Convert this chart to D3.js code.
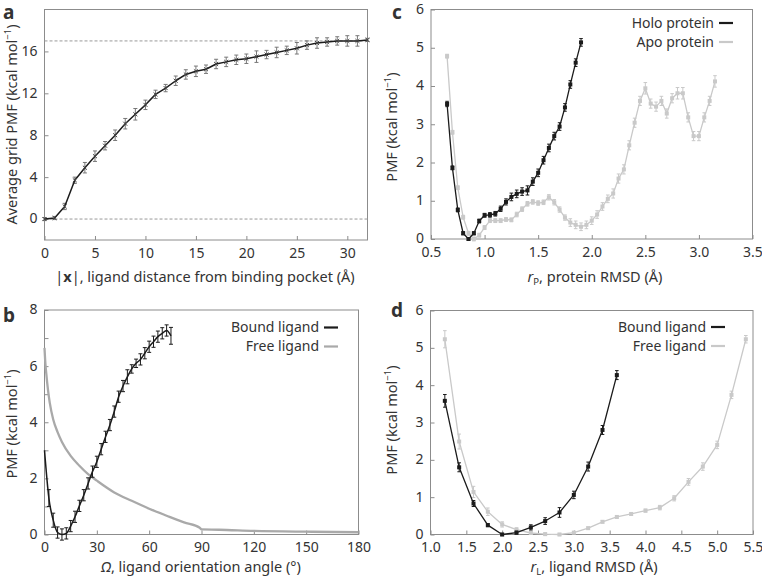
<!DOCTYPE html>
<html><head><meta charset="utf-8">
<script src="https://cdn.jsdelivr.net/npm/d3@7"></script>
<style>
body{margin:0;background:#fff}
text{font-family:'Noto Sans',sans-serif;fill:#333}
</style>
</head><body>
<svg id="chart" width="762" height="579"></svg>
<script>
// ---------- Panel a ----------
const aX = [0,1,2,3,4,5,6,7,8,9,10,11,12,13,14,15,16,17,18,19,20,21,22,23,24,25,26,27,28,29,30,31,32];
const aY = [0,0.1,1.2,3.7,4.9,6.0,7.0,8.0,9.1,10.0,10.9,11.9,12.5,13.2,13.8,14.1,14.3,14.8,15.0,15.2,15.3,15.5,15.7,15.9,16.1,16.3,16.6,16.8,16.9,17.0,17.0,17.0,17.1];
const aErr = [0.15,0.15,0.3,0.3,0.5,0.5,0.4,0.5,0.5,0.55,0.45,0.4,0.35,0.45,0.45,0.5,0.4,0.45,0.45,0.45,0.45,0.55,0.4,0.5,0.4,0.55,0.4,0.5,0.4,0.4,0.5,0.5,0.15];
const aRefLines = [0,17];
const aXTicks = [0,5,10,15,20,25,30];
const aYTicks = [0,4,8,12,16];

// ---------- Panel b ----------
const bBoundX = [0,2.5,5,7.5,10,12.5,15,17.5,20,22.5,25,27.5,30,32.5,35,37.5,40,42.5,45,47.5,50,52.5,55,57.5,60,62.5,65,67.5,70,72.5];
const bBoundY = [3.0,1.3,0.51,0.07,0,0.04,0.3,0.63,1.02,1.4,1.82,2.24,2.59,3.04,3.48,3.9,4.38,4.91,5.29,5.62,5.9,6.1,6.24,6.46,6.69,6.87,7.05,7.17,7.27,7.08];
const bBoundErr = [0,0.3,0.25,0.2,0.2,0.2,0.2,0.2,0.2,0.2,0.2,0.2,0.2,0.2,0.2,0.2,0.2,0.2,0.2,0.25,0.15,0.15,0.2,0.2,0.2,0.2,0.2,0.2,0.2,0.3];
const bFreeX = [0,0.5,1,2,3,5,7.5,10,15,20,25,30,40,50,60,70,80,89,90,100,120,150,180];
const bFreeY = [6.65,6.1,5.75,5.15,4.7,4.1,3.65,3.3,2.8,2.45,2.15,1.92,1.5,1.2,0.92,0.67,0.43,0.24,0.18,0.17,0.13,0.1,0.08];
const bXTicks = [0,30,60,90,120,150,180];
const bYTicks = [0,1,2,3,4,5,6,7,8];

// ---------- Panel c ----------
const cHoloX = [0.65,0.70,0.75,0.80,0.85,0.90,0.95,1.00,1.05,1.10,1.15,1.20,1.25,1.30,1.35,1.40,1.45,1.50,1.55,1.60,1.65,1.70,1.75,1.80,1.85,1.90];
const cHoloY = [3.53,1.86,0.76,0.15,0.0,0.15,0.47,0.62,0.63,0.66,0.79,0.97,1.1,1.18,1.24,1.27,1.5,1.73,2.06,2.38,2.69,2.94,3.44,4.04,4.61,5.14];
const cHoloErr = [0.07,0.05,0.05,0.04,0.03,0.04,0.05,0.05,0.06,0.06,0.07,0.08,0.1,0.1,0.1,0.12,0.1,0.1,0.1,0.1,0.1,0.1,0.1,0.1,0.1,0.1];
const cApoX = [0.65,0.70,0.75,0.80,0.85,0.90,0.95,1.00,1.05,1.10,1.15,1.20,1.25,1.30,1.35,1.40,1.45,1.50,1.55,1.60,1.65,1.70,1.75,1.80,1.85,1.90,1.95,2.00,2.05,2.10,2.15,2.20,2.25,2.30,2.35,2.40,2.45,2.50,2.55,2.60,2.65,2.70,2.75,2.80,2.85,2.90,2.95,3.00,3.05,3.10,3.15];
const cApoY = [4.78,2.79,1.34,0.57,0.15,0.0,0.1,0.3,0.48,0.48,0.48,0.51,0.5,0.64,0.78,0.92,0.97,0.94,0.96,1.09,0.96,0.77,0.56,0.43,0.37,0.32,0.37,0.48,0.64,0.85,1.05,1.19,1.58,1.82,2.45,3.04,3.61,3.94,3.54,3.46,3.61,3.28,3.68,3.81,3.81,3.18,2.69,2.69,3.18,3.61,4.12];
const cApoErr = [0.05,0.05,0.05,0.05,0.05,0.05,0.05,0.05,0.05,0.05,0.05,0.05,0.05,0.06,0.06,0.06,0.06,0.06,0.06,0.07,0.07,0.07,0.07,0.1,0.1,0.1,0.1,0.1,0.1,0.1,0.1,0.12,0.12,0.12,0.12,0.12,0.12,0.15,0.12,0.12,0.12,0.12,0.12,0.15,0.15,0.12,0.12,0.12,0.12,0.12,0.15];
const cXTicks = [0.5,1.0,1.5,2.0,2.5,3.0,3.5];
const cYTicks = [0,1,2,3,4,5,6];

// ---------- Panel d ----------
const dBoundX = [1.2,1.4,1.6,1.8,2.0,2.2,2.4,2.6,2.8,3.0,3.2,3.4,3.6];
const dBoundY = [3.58,1.8,0.83,0.25,0,0.05,0.19,0.36,0.59,1.06,1.82,2.8,4.27];
const dBoundErr = [0.17,0.12,0.08,0.04,0.03,0.04,0.07,0.09,0.13,0.1,0.12,0.12,0.12];
const dFreeX = [1.2,1.4,1.6,1.8,2.0,2.2,2.4,2.6,2.8,3.0,3.2,3.4,3.6,3.8,4.0,4.2,4.4,4.6,4.8,5.0,5.2,5.4];
const dFreeY = [5.23,2.49,1.14,0.61,0.27,0.13,0.04,0.01,0,0.05,0.17,0.34,0.47,0.55,0.64,0.72,0.97,1.41,1.82,2.4,3.74,5.23];
const dFreeErr = [0.23,0.2,0.15,0.1,0.07,0.05,0.03,0.03,0.03,0.03,0.03,0.03,0.03,0.03,0.04,0.06,0.07,0.09,0.1,0.1,0.1,0.1];
const dXTicks = [1.0,1.5,2.0,2.5,3.0,3.5,4.0,4.5,5.0,5.5];
const dYTicks = [0,1,2,3,4,5,6];

const BLACK = "#1b1b1b", GREY = "#a9a9a9", LIGHT = "#c9c9c9", FRAME = "#8c8c8c";
const svg = d3.select("#chart");

function makePanel(o){
  const g = svg.append("g");
  const x = d3.scaleLinear().domain(o.xd).range(o.xr);
  const y = d3.scaleLinear().domain(o.yd).range(o.yr);
  const xa = g.append("g").attr("transform",`translate(0,${o.yr[0]})`)
    .call(d3.axisBottom(x).tickValues(o.xt).tickSizeInner(-4).tickSizeOuter(0).tickPadding(8).tickFormat(o.xf));
  const ya = g.append("g").attr("transform",`translate(${o.xr[0]},0)`)
    .call(d3.axisLeft(y).tickValues(o.yt).tickSizeInner(-4).tickSizeOuter(0).tickPadding(7).tickFormat(o.yf));
  [xa,ya].forEach(a=>{
    a.select(".domain").remove();
    a.selectAll("line").attr("stroke",FRAME);
    a.selectAll("text").attr("font-size",14).attr("fill","#3a3a3a").attr("font-family","'Noto Sans',sans-serif");
  });
  ya.selectAll("text").attr("dy","0.28em");
  g.append("rect").attr("x",o.xr[0]).attr("y",o.yr[1]).attr("width",o.xr[1]-o.xr[0]).attr("height",o.yr[0]-o.yr[1])
    .attr("fill","none").attr("stroke",FRAME).attr("stroke-width",1);
  return {g,x,y};
}

function errBars(p, X, Y, E, color, cap, w){
  const d = X.map((v,i)=>({x:v,y:Y[i],e:E[i]})).filter(q=>q.e>0);
  const gg = p.g.append("g").attr("stroke",color).attr("stroke-width",w||1).attr("fill","none");
  d.forEach(q=>{
    const cx = p.x(q.x), y1 = p.y(q.y - q.e), y2 = p.y(q.y + q.e);
    gg.append("line").attr("x1",cx).attr("x2",cx).attr("y1",y1).attr("y2",y2);
    gg.append("line").attr("x1",cx-cap).attr("x2",cx+cap).attr("y1",y1).attr("y2",y1);
    gg.append("line").attr("x1",cx-cap).attr("x2",cx+cap).attr("y1",y2).attr("y2",y2);
  });
}
function lineS(p, X, Y, color, w, curve){
  p.g.append("path").datum(X.map((v,i)=>[v,Y[i]]))
    .attr("d", d3.line().x(d=>p.x(d[0])).y(d=>p.y(d[1])).curve(curve||d3.curveLinear))
    .attr("fill","none").attr("stroke",color).attr("stroke-width",w).attr("stroke-linejoin","round");
}
function squares(p, X, Y, color, s){
  p.g.append("g").selectAll("rect").data(X.map((v,i)=>[v,Y[i]])).join("rect")
    .attr("x",d=>p.x(d[0])-s/2).attr("y",d=>p.y(d[1])-s/2).attr("width",s).attr("height",s).attr("fill",color);
}
function label(x,y,txt,opts){
  const t = svg.append("text").attr("x",x).attr("y",y).attr("font-size",(opts&&opts.size)||14);
  if(opts&&opts.anchor) t.attr("text-anchor",opts.anchor);
  if(opts&&opts.rot) t.attr("transform",`rotate(-90,${x},${y})`);
  return t;
}
function pmfLabel(x,y,pre){
  const t = label(x,y,"",{anchor:"middle",rot:true,size:14.5});
  t.append("tspan").text(pre+" (kcal mol");
  t.append("tspan").attr("font-size",9.5).attr("dy",-6).text("−1");
  t.append("tspan").attr("dy",6).text(")");
}
function letter(x,y,s){
  svg.append("text").attr("x",x).attr("y",y).attr("font-size",19).attr("font-weight","bold")
    .attr("font-family","'Liberation Sans',Arial,sans-serif").attr("fill","#111").text(s);
}
function legend(xEnd, y, txt, color, w){
  svg.append("text").attr("x",xEnd).attr("y",y).attr("dy","0.35em").attr("text-anchor","end").attr("font-size",14).attr("fill","#333").text(txt);
  svg.append("line").attr("x1",xEnd+5).attr("x2",xEnd+19).attr("y1",y).attr("y2",y).attr("stroke",color).attr("stroke-width",w);
}

// ---- Panel a
const pa = makePanel({xd:[0,32],xr:[44.5,367.5],yd:[-2,20],yr:[240,9.5],xt:aXTicks,yt:aYTicks,xf:d3.format("d"),yf:d3.format("d")});
aRefLines.forEach(v=>{
  pa.g.append("line").attr("x1",pa.x(0)).attr("x2",pa.x(32)).attr("y1",pa.y(v)).attr("y2",pa.y(v))
    .attr("stroke","#999").attr("stroke-dasharray","3,2").attr("stroke-width",1);
});
errBars(pa, aX, aY, aErr, "#777", 2, 1);
lineS(pa, aX, aY, BLACK, 1.5);
pa.g.append("g").selectAll("path").data(aX.map((v,i)=>[v,aY[i]])).join("path")
  .attr("transform",d=>`translate(${pa.x(d[0])},${pa.y(d[1])})`)
  .attr("d", d3.symbol().type(d3.symbolTimes||d3.symbolCross).size(12))
  .attr("stroke","#444").attr("stroke-width",1).attr("fill","none");
letter(3,18.5,"a");
pmfLabel(17,124.5,"Average grid PMF");
{
  const t = label(205,282,"",{anchor:"middle",size:14.5});
  t.append("tspan").text("|");
  t.append("tspan").attr("font-weight","bold").text("x");
  t.append("tspan").text("|, ligand distance from binding pocket (Å)");
}

// ---- Panel b
const pb = makePanel({xd:[0,180],xr:[44.5,358.5],yd:[0,8],yr:[534.5,310],xt:bXTicks,yt:bYTicks,xf:d3.format("d"),yf:d=>d%2===0?d:""});
lineS(pb, bFreeX, bFreeY, GREY, 2.3, d3.curveMonotoneX);
errBars(pb, bBoundX, bBoundY, bBoundErr, BLACK, 2, 1);
lineS(pb, bBoundX, bBoundY, BLACK, 1.5, d3.curveMonotoneX);
letter(3,322,"b");
pmfLabel(17,424,"PMF");
{
  const t = label(201,572,"",{anchor:"middle",size:14.5});
  t.append("tspan").attr("font-style","italic").text("Ω");
  t.append("tspan").text(", ligand orientation angle (°)");
}
legend(319,327.5,"Bound ligand",BLACK,2.2);
legend(319,346.5,"Free ligand",GREY,2.2);

// ---- Panel c
const pc = makePanel({xd:[0.5,3.5],xr:[431,752.5],yd:[0,6],yr:[239,9.5],xt:cXTicks,yt:cYTicks,xf:d3.format(".1f"),yf:d3.format("d")});
errBars(pc, cApoX, cApoY, cApoErr, LIGHT, 1.8, 1);
lineS(pc, cApoX, cApoY, LIGHT, 1.3);
squares(pc, cApoX, cApoY, LIGHT, 4);
errBars(pc, cHoloX, cHoloY, cHoloErr, BLACK, 1.8, 1);
lineS(pc, cHoloX, cHoloY, BLACK, 1.3);
squares(pc, cHoloX, cHoloY, BLACK, 4);
letter(392,18.5,"c");
pmfLabel(397,127,"PMF");
{
  const t = label(595,282,"",{anchor:"middle",size:14.5});
  t.append("tspan").attr("font-style","italic").text("r");
  t.append("tspan").attr("font-size",9.5).attr("dy",3).text("P");
  t.append("tspan").attr("dy",-3).text(", protein RMSD (Å)");
}
legend(714,23,"Holo protein",BLACK,2.2);
legend(714,42,"Apo protein",LIGHT,2.2);

// ---- Panel d
const pd = makePanel({xd:[1.0,5.5],xr:[430.5,753],yd:[0,6],yr:[534.5,310.5],xt:dXTicks,yt:dYTicks,xf:d3.format(".1f"),yf:d3.format("d")});
errBars(pd, dFreeX, dFreeY, dFreeErr, LIGHT, 1.8, 1);
lineS(pd, dFreeX, dFreeY, LIGHT, 1.3);
squares(pd, dFreeX, dFreeY, LIGHT, 4);
errBars(pd, dBoundX, dBoundY, dBoundErr, BLACK, 1.8, 1);
lineS(pd, dBoundX, dBoundY, BLACK, 1.3);
squares(pd, dBoundX, dBoundY, BLACK, 4);
letter(391,317,"d");
pmfLabel(397,420,"PMF");
{
  const t = label(594,572,"",{anchor:"middle",size:14.5});
  t.append("tspan").attr("font-style","italic").text("r");
  t.append("tspan").attr("font-size",9.5).attr("dy",3).text("L");
  t.append("tspan").attr("dy",-3).text(", ligand RMSD (Å)");
}
legend(706,327,"Bound ligand",BLACK,2.2);
legend(706,346,"Free ligand",LIGHT,2.2);
</script>
</body></html>
